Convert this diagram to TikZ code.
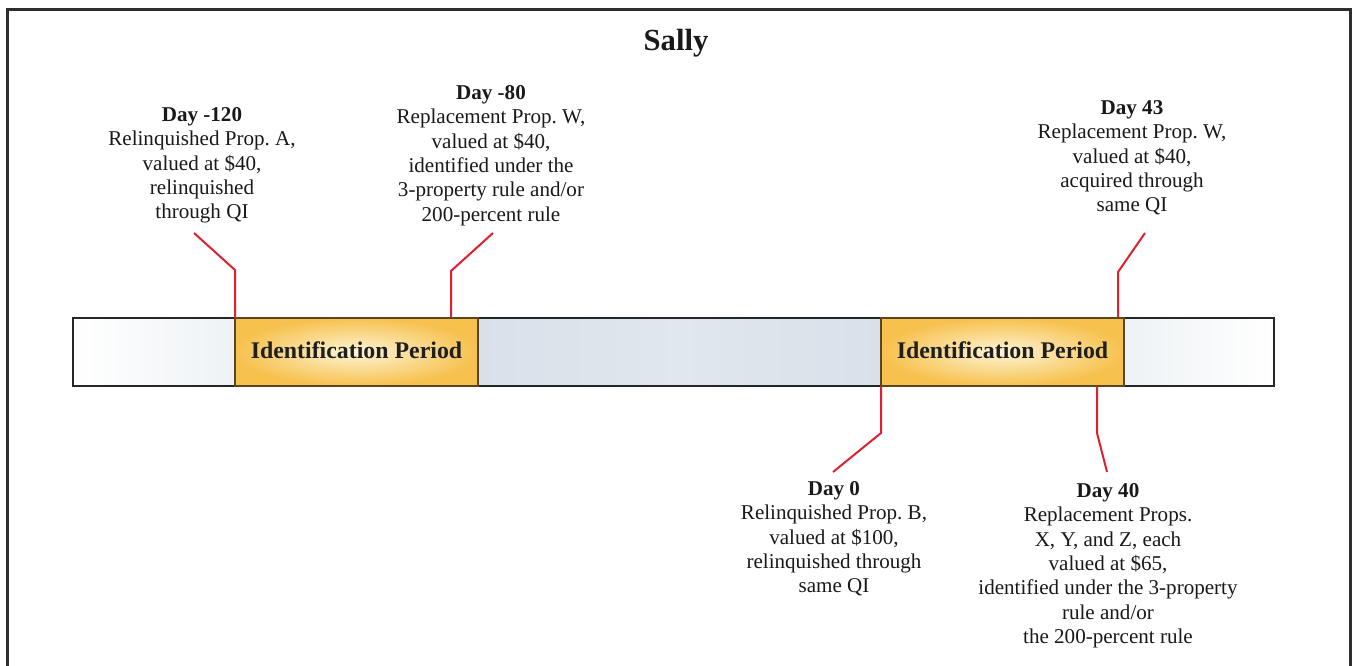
\documentclass[tikz,border=0pt]{standalone}
\usepackage{fontspec}
\setmainfont{Liberation Serif}
\frenchspacing
\definecolor{redl}{HTML}{E0202E}
\definecolor{barl}{HTML}{EEF2F5}
\definecolor{barm}{HTML}{D8E1E9}
\definecolor{barmid}{HTML}{E0E7EE}
\definecolor{goldin}{HTML}{FDF4D6}
\definecolor{goldout}{HTML}{F7C14E}
\definecolor{goldedge}{HTML}{5A4624}
\definecolor{frameclr}{HTML}{2E2E2E}
\tikzset{
  redline/.style={draw=redl, line width=1.5pt},
  txt/.style={align=center, inner sep=0pt, anchor=north, font=\fontsize{15.8}{18.3}\selectfont, text=black!90},
  idlabel/.style={anchor=base, inner sep=0pt, font=\bfseries\fontsize{17.9}{20}\selectfont, text=black!88},
  idbox/.style={inner color=goldin, outer color=goldout},
  idedge/.style={draw=goldedge, line width=1.3pt},
  baredge/.style={draw=black!85, line width=1.6pt},
  frameline/.style={draw=frameclr, line width=2.3pt}
}
\begin{document}
\begin{tikzpicture}[x=0.75pt,y=-0.75pt]
\useasboundingbox (0,0) rectangle (1353,666);
\clip (0,0) rectangle (1353,666);
% frame
\draw[frameline] (7.5,680) -- (7.5,9.5) -- (1350.5,9.5) -- (1350.5,680);
% title
\node[anchor=base, inner sep=0pt, font=\bfseries\fontsize{23}{27}\selectfont, text=black!90] (title) at (676,51) {Sally};
% bar segments
\shade[left color=white, right color=barl] (73,318) rectangle (235,386);
\shade[left color=barm, right color=barm, middle color=barmid] (478,318) rectangle (881,386);
\shade[left color=barl, right color=white] (1124,318) rectangle (1274,386);
\shade[idbox] (235,318) rectangle (478,386);
\shade[idbox] (881,318) rectangle (1124,386);
\draw[baredge] (73,318) rectangle (1274,386);
\draw[idedge] (235,318) rectangle (478,386);
\draw[idedge] (881,318) rectangle (1124,386);
\node[idlabel] (id1) at (356.5,359) {Identification Period};
\node[idlabel] (id2) at (1002.5,359) {Identification Period};
% texts
\node[txt] (d120) at (202,107) {\textbf{Day -120}\\Relinquished Prop. A,\\valued at \$40,\\relinquished\\through QI};
\node[txt] (d80) at (491,85) {\textbf{Day -80}\\Replacement Prop. W,\\valued at \$40,\\identified under the\\3-property rule and/or\\200-percent rule};
\node[txt] (d43) at (1132,100) {\textbf{Day 43}\\Replacement Prop. W,\\valued at \$40,\\acquired through\\same QI};
\node[txt] (d0) at (834,481) {\textbf{Day 0}\\Relinquished Prop. B,\\valued at \$100,\\relinquished through\\same QI};
\node[txt] (d40) at (1108,483) {\textbf{Day 40}\\Replacement Props.\\X, Y, and Z, each\\valued at \$65,\\identified under the 3-property\\rule and/or\\the 200-percent rule};
% red leader lines
\coordinate (a1) at (194,233); \coordinate (a2) at (235,270); \coordinate (a3) at (235,318);
\coordinate (b1) at (493,233); \coordinate (b2) at (451,271); \coordinate (b3) at (451,317);
\coordinate (c1) at (1145,233); \coordinate (c2) at (1118,272); \coordinate (c3) at (1118,317);
\coordinate (e1) at (881,387); \coordinate (e2) at (881,433); \coordinate (e3) at (833,472);
\coordinate (f1) at (1097,387); \coordinate (f2) at (1097,433); \coordinate (f3) at (1107,472);
\draw[redline] (a1) -- (a2) -- (a3);
\draw[redline] (b1) -- (b2) -- (b3);
\draw[redline] (c1) -- (c2) -- (c3);
\draw[redline] (e1) -- (e2) -- (e3);
\draw[redline] (f1) -- (f2) -- (f3);
\end{tikzpicture}
\end{document}
